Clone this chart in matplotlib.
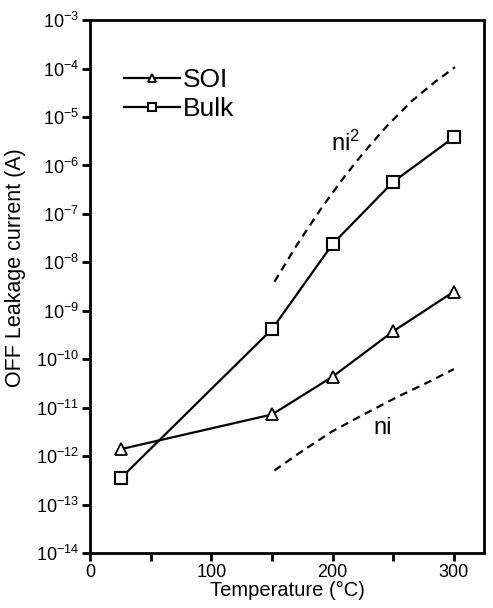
import matplotlib
matplotlib.use("Agg")
import matplotlib.pyplot as plt
import numpy as np
from matplotlib.ticker import LogLocator, FixedLocator, NullLocator

plt.rcParams['font.family'] = ['Liberation Sans', 'DejaVu Sans']
plt.rcParams['mathtext.fontset'] = 'custom'
plt.rcParams['mathtext.rm'] = 'Liberation Sans'
plt.rcParams['mathtext.it'] = 'Liberation Sans:italic'

temps = [25, 150, 200, 250, 300]
soi = [1.4e-12, 7.3e-12, 4.4e-11, 3.8e-10, 2.5e-9]
bulk = [3.5e-13, 4.2e-10, 2.4e-8, 4.6e-7, 3.8e-6]

ni2_t = [152, 171, 191, 210, 226, 245, 265, 284, 301]
ni2_v = [4.0e-9, 2.4e-8, 1.35e-7, 6.0e-7, 1.9e-6, 6.6e-6, 2.1e-5, 5.2e-5, 1.07e-4]
ni_t = [152, 171, 199, 226, 253, 280, 300]
ni_v = [5.1e-13, 1.1e-12, 3.2e-12, 7.4e-12, 1.66e-11, 3.5e-11, 6.3e-11]

xticks = [0, 100, 200, 300]
xminor = [50, 150, 250]

fig = plt.figure(figsize=(4.93, 6.08), dpi=100)
ax = fig.add_axes([0.183, 0.090, 0.799, 0.877])

ax.plot(temps, soi, '-', color='black', lw=1.6, marker='^', ms=8,
        mfc='white', mec='black', mew=1.3, label='SOI')
ax.plot(temps, bulk, '-', color='black', lw=1.6, marker='s', ms=8,
        mfc='white', mec='black', mew=1.5, label='Bulk')
ax.plot(ni2_t, ni2_v, '--', color='black', lw=1.6, dashes=(3.5, 2.5))
ax.plot(ni_t, ni_v, '--', color='black', lw=1.6, dashes=(3.5, 2.5))

ax.text(199, 2.9e-6, r'ni$^{2}$', fontsize=17, ha='left', va='center')
ax.text(234, 3.9e-12, 'ni', fontsize=17, ha='left', va='center')

ax.set_yscale('log')
ax.set_ylim(1e-14, 1e-3)
ax.set_xlim(0, 325)
ax.yaxis.set_major_locator(LogLocator(base=10, numticks=20))
ax.yaxis.set_minor_locator(NullLocator())
ax.xaxis.set_major_locator(FixedLocator(xticks))
ax.xaxis.set_minor_locator(FixedLocator(xminor))
ax.xaxis.offsetText.set_visible(False)
ax.yaxis.offsetText.set_visible(False)

for s in ax.spines.values():
    s.set_linewidth(2)
ax.tick_params(which='both', direction='out', length=6, width=2,
               labelsize=13, top=False, right=False)
ax.tick_params(axis='y', pad=2)
ax.tick_params(axis='x', pad=1.5)

ax.set_xlabel('Temperature (°C)', fontsize=14.5, labelpad=0.5)
ax.set_ylabel('OFF Leakage current (A)', fontsize=15.5)
ax.yaxis.set_label_coords(-0.163, 0.535)

leg = ax.legend(loc='upper left', bbox_to_anchor=(0.06, 0.93), frameon=False,
                fontsize=19, handlelength=2.1, handletextpad=0.1,
                labelspacing=0.2, borderaxespad=0, markerscale=0.8)

fig.savefig('out.png', dpi=100)
